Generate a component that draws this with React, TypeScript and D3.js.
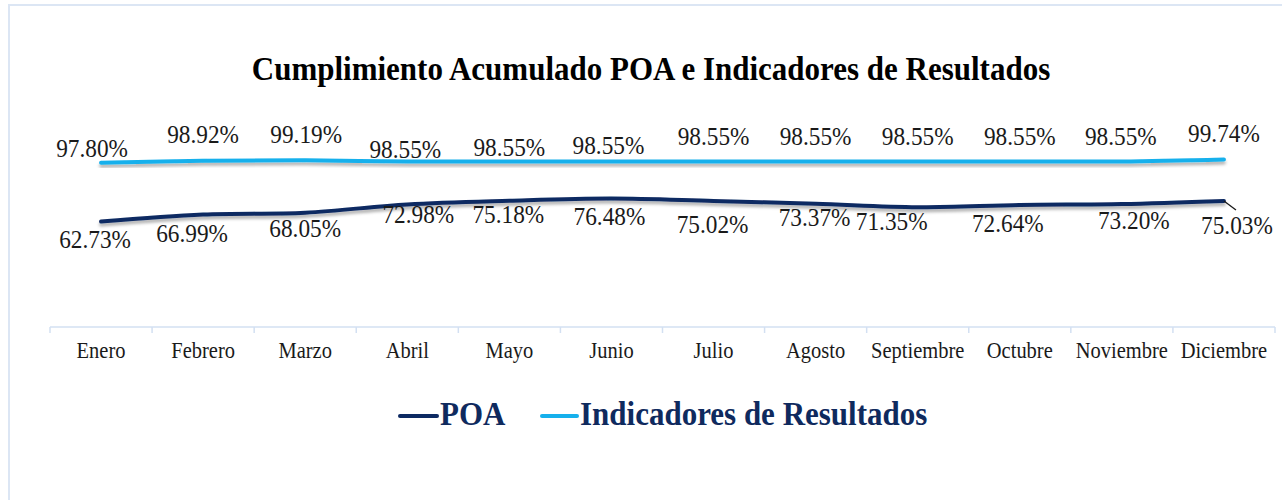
import React from "react";
import * as d3 from "d3";

// ---- data ----
const months = ["Enero", "Febrero", "Marzo", "Abril", "Mayo", "Junio", "Julio", "Agosto", "Septiembre", "Octubre", "Noviembre", "Diciembre"];
const poa = [62.73, 66.99, 68.05, 72.98, 75.18, 76.48, 75.02, 73.37, 71.35, 72.64, 73.2, 75.03];
const indicadores = [97.8, 98.92, 99.19, 98.55, 98.55, 98.55, 98.55, 98.55, 98.55, 98.55, 98.55, 99.74];
const seriesNames = ["POA", "Indicadores de Resultados"];
const titleText = "Cumplimiento Acumulado POA e Indicadores de Resultados";

// ---- layout (label nudges relative to each point, px) ----
const indLabelDx = [-9, 0, 1, -2, 0, -3, 0, 0, 0, 0, -1, 0];
const indLabelDy = [-6, -18, -17, -3, -5, -7, -16, -16, -16, -16, -16, -17];
const poaLabelDx = [-6, -11, 0, 11, -1, -2, -1, -1, -26, -12, 12, 13];
const poaLabelDy = [26, 27.5, 24, 19, 22, 26, 32, 22, 23, 27, 25, 33];

const W = 1282;
const H = 500;
const C_POA = "#0d2a62";
const C_IND = "#16b0ec";
const C_TEXT = "#1a1a1a";
const C_LEGEND = "#0f2a5e";
const C_AXIS = "#d3e0f2";
const FONT = "'Liberation Serif', 'Times New Roman', serif";
const STRETCH = 1.1;

function T(props: {
  x: number;
  y: number;
  size: number;
  bold?: boolean;
  fill?: string;
  anchor?: "start" | "middle" | "end";
  children: React.ReactNode;
}) {
  return (
    <text
      transform={`translate(${props.x},${props.y}) scale(1,${STRETCH})`}
      textAnchor={props.anchor || "middle"}
      fontFamily={FONT}
      fontWeight={props.bold ? "bold" : "normal"}
      fontSize={props.size}
      fill={props.fill || C_TEXT}
    >
      {props.children}
    </text>
  );
}

export default function App() {
  const x = d3.scaleBand<string>().domain(months).range([50, 1275]).paddingInner(0).paddingOuter(0);
  const y = d3.scaleLinear().domain([0, 120]).range([327, 125.4]);
  const cx = (i: number) => (x(months[i]) as number) + x.bandwidth() / 2;

  const line = d3
    .line<number>()
    .x((_, i) => cx(i))
    .y((d) => y(d))
    .curve(d3.curveCatmullRom.alpha(0));

  const boundaries = months.map((m) => x(m) as number).concat([x.range()[1]]);

  const lastI = poa.length - 1;
  const leadX1 = cx(lastI);
  const leadY1 = y(poa[lastI]);
  const leadX2 = cx(lastI) + 12;
  const leadY2 = y(poa[lastI]) + 9;

  return (
    <div style={{ position: "absolute", left: 0, top: 0 }}>
      <svg width={W} height={H} style={{ display: "block", background: "#fff" }}>
        <defs>
          <filter id="shadow" x="-5%" y="-50%" width="110%" height="300%">
            <feDropShadow dx="0" dy="3" stdDeviation="1.6" floodColor="#000" floodOpacity="0.3" />
          </filter>
        </defs>
        {/* chart frame */}
        <path d={`M9,${H} L9,5 L${W},5`} fill="none" stroke="#dce6f4" strokeWidth={2} />

        {/* title */}
        <T x={651} y={80} size={31} bold fill="#000">
          {titleText}
        </T>

        {/* axis */}
        <line x1={x.range()[0]} x2={x.range()[1]} y1={327} y2={327} stroke={C_AXIS} strokeWidth={1.5} />
        {boundaries.map((b, i) => (
          <line key={i} x1={b} x2={b} y1={327} y2={333} stroke={C_AXIS} strokeWidth={1.5} />
        ))}
        {months.map((m, i) => (
          <T key={m} x={cx(i)} y={358} size={20.5}>
            {m}
          </T>
        ))}

        {/* lines */}
        <path d={line(indicadores) || ""} fill="none" stroke={C_IND} strokeWidth={4} strokeLinecap="round" filter="url(#shadow)" />
        <path d={line(poa) || ""} fill="none" stroke={C_POA} strokeWidth={4} strokeLinecap="round" filter="url(#shadow)" />

        {/* leader line */}
        <line x1={leadX1} y1={leadY1} x2={leadX2} y2={leadY2} stroke="#1a1a1a" strokeWidth={1.3} />

        {/* labels */}
        {indicadores.map((v, i) => (
          <T key={"i" + i} x={cx(i) + indLabelDx[i]} y={y(v) + indLabelDy[i]} size={23.3}>
            {v.toFixed(2) + "%"}
          </T>
        ))}
        {poa.map((v, i) => (
          <T key={"p" + i} x={cx(i) + poaLabelDx[i]} y={y(v) + poaLabelDy[i]} size={23.3}>
            {v.toFixed(2) + "%"}
          </T>
        ))}

        {/* legend */}
        <line x1={400} x2={437} y1={416} y2={416} stroke={C_POA} strokeWidth={4} strokeLinecap="round" />
        <T x={440} y={425} size={31} bold fill={C_LEGEND} anchor="start">
          {seriesNames[0]}
        </T>
        <line x1={542} x2={577} y1={416} y2={416} stroke={C_IND} strokeWidth={4} strokeLinecap="round" />
        <T x={580} y={425} size={31} bold fill={C_LEGEND} anchor="start">
          {seriesNames[1]}
        </T>
      </svg>
    </div>
  );
}
